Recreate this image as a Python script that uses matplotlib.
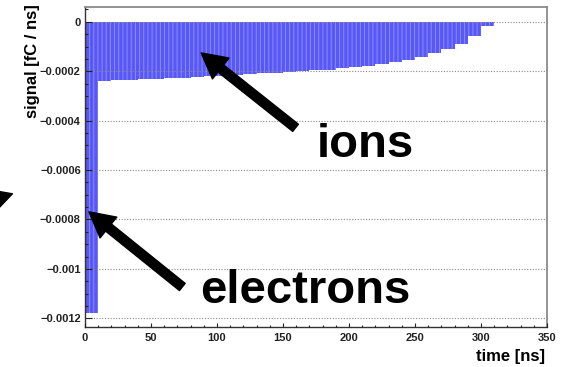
import numpy as np
import matplotlib.pyplot as plt
from matplotlib.ticker import MultipleLocator, FuncFormatter

plt.rcParams['font.family'] = ['Liberation Sans', 'DejaVu Sans']
plt.rcParams['hatch.linewidth'] = 0.7

# induced current, 10 ns bins from 0 to 350 ns
bin_low = np.arange(0, 350, 10)
signal = [-0.00118,
          -0.000238, -0.000236, -0.000234, -0.000232, -0.000230,
          -0.000228, -0.000226, -0.000224, -0.000221, -0.000218,
          -0.000215, -0.000212, -0.000209, -0.000206, -0.000203,
          -0.000200, -0.000197, -0.000194, -0.000187, -0.000183,
          -0.000177, -0.000170, -0.000163, -0.000154, -0.000143,
          -0.000127, -0.000111, -0.000090, -0.000057, -0.000019,
          0.0, 0.0, 0.0, 0.0]
bin_width = 10

fig = plt.figure(figsize=(5.63, 3.67), dpi=100)
ax = fig.add_axes([0.151, 0.109, 0.8206, 0.872])

ax.bar(bin_low, signal, width=bin_width, align='edge', color='#5858f6',
       edgecolor='#8c8cff', linewidth=0, hatch='||||', zorder=1)

ax.set_xlim(0, 350)
ax.set_ylim(-0.001235, 0.00006)

# ROOT-like axes: ticks inside, horizontal dotted grid
ax.xaxis.set_major_locator(MultipleLocator(50))
ax.xaxis.set_minor_locator(MultipleLocator(10))
ax.yaxis.set_major_locator(MultipleLocator(0.0002))
ax.yaxis.set_minor_locator(MultipleLocator(0.00005))
ax.yaxis.set_major_formatter(FuncFormatter(
    lambda v, p: '0' if abs(v) < 1e-12 else '{:g}'.format(v).replace('-', '\u2212')))
ax.tick_params(axis='both', which='both', direction='in', colors='#222222',
               labelsize=8, top=False, right=False)
ax.tick_params(axis='y', which='major', length=5, width=0.8, pad=3)
ax.tick_params(axis='y', which='minor', length=2.5, width=0.8)
ax.tick_params(axis='x', which='major', length=3, width=0.8, pad=4)
ax.tick_params(axis='x', which='minor', length=1.8, width=0.8)
for lab in ax.get_xticklabels() + ax.get_yticklabels():
    lab.set_fontweight('bold')
    lab.set_color('#222222')

ax.yaxis.grid(True, linestyle=(0, (1, 1.5)), color='#8a8a8a', linewidth=0.8)
ax.set_axisbelow(False)
for side in ['left', 'bottom']:
    ax.spines[side].set_color('#333333')
    ax.spines[side].set_linewidth(1.0)
for side in ['top', 'right']:
    ax.spines[side].set_color('#8a8a8a')
    ax.spines[side].set_linewidth(1.3)

fig.text(0.057, 1 - 4 / 367, 'signal [fC / ns]', rotation=90, ha='center',
         va='top', fontsize=12, fontweight='bold')
fig.text(545 / 563, 1 - 357 / 367, 'time [ns]', ha='right', va='center',
         fontsize=12, fontweight='bold')

# labels with arrows
arrow = dict(arrowstyle='simple,head_length=1.5,head_width=1.6,tail_width=0.55',
             color='black', mutation_scale=12, shrinkA=0, shrinkB=0)
ax.annotate('', xy=(88, -0.000126), xytext=(159.5, -0.000429),
            arrowprops=arrow)
ax.annotate('', xy=(3, -0.000769), xytext=(73.7, -0.001073),
            arrowprops=arrow)
ax.annotate('', xy=(-55, -0.000696), xytext=(-101, -0.000777),
            arrowprops=arrow, annotation_clip=False)
ax.text(212.6, -0.000547, 'ions', ha='center', va='baseline',
        fontsize=34, fontweight='bold')
ax.text(167, -0.001138, 'electrons', ha='center', va='baseline',
        fontsize=34, fontweight='bold')

fig.savefig('out.png', dpi=100)
